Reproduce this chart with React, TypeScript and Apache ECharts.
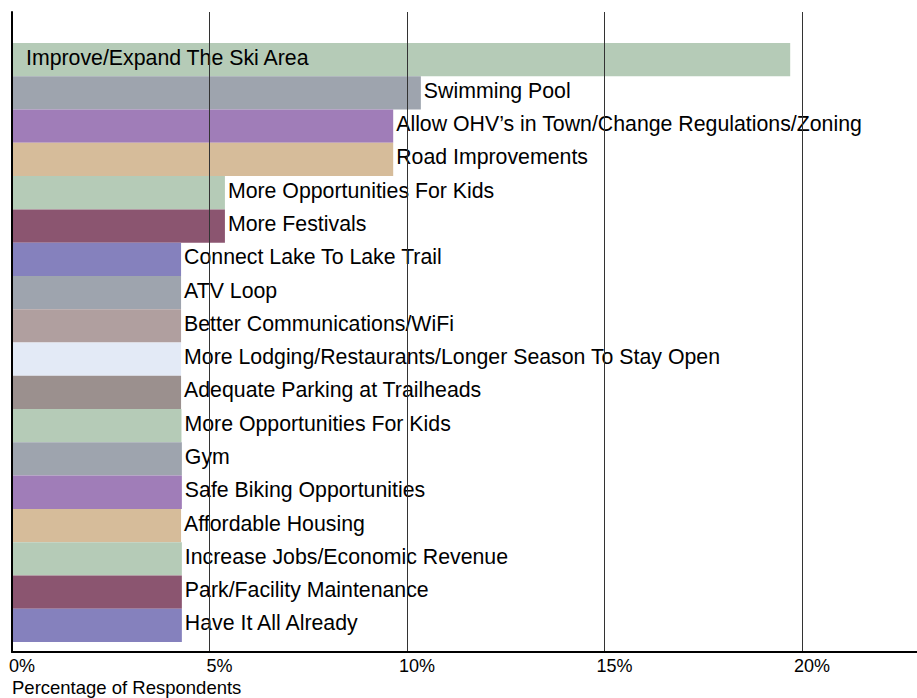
import React, { useEffect, useRef } from "react";
import * as echarts from "echarts";

const categories: string[] = [
  "Improve/Expand The Ski Area",
  "Swimming Pool",
  "Allow OHV’s in Town/Change Regulations/Zoning",
  "Road Improvements",
  "More Opportunities For Kids",
  "More Festivals",
  "Connect Lake To Lake Trail",
  "ATV Loop",
  "Better Communications/WiFi",
  "More Lodging/Restaurants/Longer Season To Stay Open",
  "Adequate Parking at Trailheads",
  "More Opportunities For Kids",
  "Gym",
  "Safe Biking Opportunities",
  "Affordable Housing",
  "Increase Jobs/Economic Revenue",
  "Park/Facility Maintenance",
  "Have It All Already",
];

const percentValues: number[] = [
  19.7, 10.35, 9.65, 9.65, 5.39, 5.39, 4.28, 4.28, 4.28, 4.28, 4.28, 4.29, 4.3,
  4.3, 4.28, 4.3, 4.3, 4.3,
];

const barColors: string[] = [
  "#b5cbb7",
  "#9ea4ae",
  "#a07db8",
  "#d6bc9a",
  "#b5cbb7",
  "#8b5570",
  "#8581bd",
  "#9ea4ae",
  "#b09f9f",
  "#e3eaf6",
  "#9b908e",
  "#b5cbb7",
  "#9ea4ae",
  "#a07db8",
  "#d6bc9a",
  "#b5cbb7",
  "#8b5570",
  "#8581bd",
];

const tickValues: number[] = [0, 5, 10, 15, 20];
const axisTitle = "Percentage of Respondents";

const FONT = "'Liberation Sans', Arial, Helvetica, sans-serif";

export default function App() {
  const ref = useRef<HTMLDivElement | null>(null);

  useEffect(() => {
    if (!ref.current) return;
    const chart = echarts.init(ref.current, undefined, { renderer: "svg" });
    const xMax = 22.91;

    const data = percentValues.map((v, i) => ({
      value: v,
      name: categories[i],
      itemStyle: { color: barColors[i] },
      label:
        i === 0
          ? { position: "insideLeft" as const, distance: 14 }
          : undefined,
    }));

    chart.setOption({
      animation: false,
      backgroundColor: "#ffffff",
      textStyle: { fontFamily: FONT },
      title: {
        text: axisTitle,
        left: 12,
        top: 678,
        padding: 0,
        textStyle: {
          fontFamily: FONT,
          fontSize: 18.5,
          fontWeight: "normal",
          color: "#000",
        },
      },
      grid: [
        { left: 12, right: 0, top: 43, bottom: 56, containLabel: false },
        { left: 12, right: 0, top: 12, bottom: 46, containLabel: false },
      ],
      xAxis: [
        {
          type: "value",
          gridIndex: 0,
          min: 0,
          max: xMax,
          show: false,
        },
        {
          type: "value",
          gridIndex: 1,
          min: 0,
          max: xMax,
          interval: 5,
          z: 10,
          axisLine: { show: true, lineStyle: { color: "#000", width: 2 } },
          axisTick: { show: false },
          splitLine: { show: true, lineStyle: { color: "#333", width: 1 } },
          axisLabel: {
            fontFamily: FONT,
            fontSize: 18,
            color: "#000",
            margin: 5,
            padding: [0, 0, 0, 20],
            showMaxLabel: false,
            formatter: (v: number) =>
              tickValues.indexOf(v) >= 0 ? `${v}%` : "",
          },
        },
      ],
      yAxis: [
        {
          type: "category",
          gridIndex: 0,
          inverse: true,
          data: categories.map((c, i) => `${i}|${c}`),
          show: false,
        },
        {
          type: "value",
          gridIndex: 1,
          min: 0,
          max: 1,
          z: 10,
          axisLine: { show: true, lineStyle: { color: "#000", width: 2 } },
          axisTick: { show: false },
          axisLabel: { show: false },
          splitLine: { show: false },
        },
      ],
      series: [
        {
          type: "bar",
          xAxisIndex: 0,
          yAxisIndex: 0,
          barCategoryGap: 0,
          barWidth: "100%",
          data,
          label: {
            show: true,
            position: "right",
            distance: 3,
            offset: [0, -2],
            fontFamily: FONT,
            fontSize: 21.3,
            color: "#000",
            formatter: (p: any) => p.name,
          },
        },
      ],
    });

    return () => chart.dispose();
  }, []);

  return (
    <div
      ref={ref}
      style={{
        position: "fixed",
        left: 0,
        top: 0,
        width: 917,
        height: 698,
      }}
    />
  );
}
